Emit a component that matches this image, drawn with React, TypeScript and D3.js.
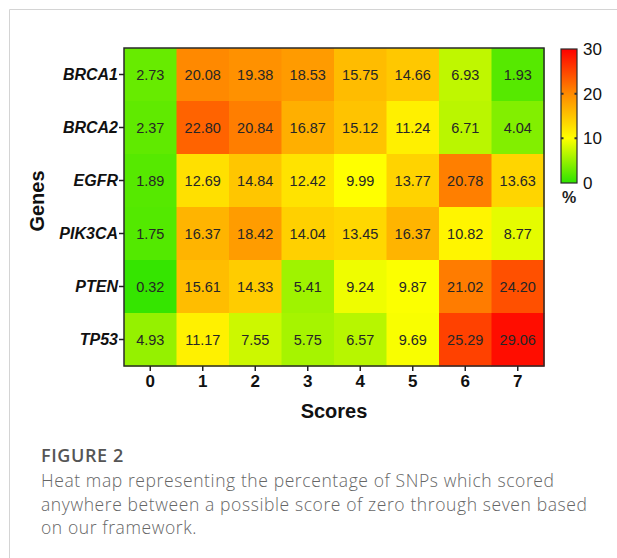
import { useEffect, useRef } from 'react';
import * as d3 from 'd3';

const genes = ['BRCA1', 'BRCA2', 'EGFR', 'PIK3CA', 'PTEN', 'TP53'];
const scores = ['0', '1', '2', '3', '4', '5', '6', '7'];
const brca1 = [2.73, 20.08, 19.38, 18.53, 15.75, 14.66, 6.93, 1.93];
const brca2 = [2.37, 22.8, 20.84, 16.87, 15.12, 11.24, 6.71, 4.04];
const egfr = [1.89, 12.69, 14.84, 12.42, 9.99, 13.77, 20.78, 13.63];
const pik3ca = [1.75, 16.37, 18.42, 14.04, 13.45, 16.37, 10.82, 8.77];
const pten = [0.32, 15.61, 14.33, 5.41, 9.24, 9.87, 21.02, 24.2];
const tp53 = [4.93, 11.17, 7.55, 5.75, 6.57, 9.69, 25.29, 29.06];
const legendTicks = [0, 10, 20, 30];

const rows = [brca1, brca2, egfr, pik3ca, pten, tp53];

function App() {
  const svgRef = useRef<SVGSVGElement | null>(null);
  const width = 617;
  const height = 558;
  const plot = { left: 124, right: 544, top: 48, bottom: 366 };

  useEffect(() => {
    const svg = d3.select(svgRef.current);
    svg.selectAll('*').remove();

    const cells = rows.flatMap((vals, i) =>
      vals.map((v, j) => ({ gene: genes[i], score: scores[j], value: v }))
    );

    const x = d3.scaleBand().domain(scores).range([plot.left, plot.right]);
    const y = d3.scaleBand().domain(genes).range([plot.top, plot.bottom]);
    const color = d3
      .scaleLinear<string>()
      .domain([0, 10, 20, 30])
      .range(['#2ee400', '#ffff00', '#ff8a00', '#ff0000'])
      .clamp(true);

    // card border
    svg.append('path')
      .attr('d', `M9.5,${height} V9.5 H${width}`)
      .attr('fill', 'none')
      .attr('stroke', '#d4d4d4');

    const g = svg.append('g');
    g.selectAll('rect.cell')
      .data(cells)
      .enter()
      .append('rect')
      .attr('class', 'cell')
      .attr('x', (d) => x(d.score) as number)
      .attr('y', (d) => y(d.gene) as number)
      .attr('width', x.bandwidth() + 0.5)
      .attr('height', y.bandwidth() + 0.5)
      .attr('fill', (d) => color(d.value));

    g.selectAll('text.val')
      .data(cells)
      .enter()
      .append('text')
      .attr('class', 'val')
      .attr('x', (d) => (x(d.score) as number) + x.bandwidth() / 2)
      .attr('y', (d) => (y(d.gene) as number) + y.bandwidth() / 2)
      .attr('dy', '0.36em')
      .attr('text-anchor', 'middle')
      .attr('font-family', 'Liberation Sans, Arial, sans-serif')
      .attr('font-size', 14.5)
      .attr('fill', '#262626')
      .text((d) => d.value.toFixed(2));

    svg.append('rect')
      .attr('x', plot.left)
      .attr('y', plot.top)
      .attr('width', plot.right - plot.left)
      .attr('height', plot.bottom - plot.top)
      .attr('fill', 'none')
      .attr('stroke', '#2a2a2a')
      .attr('stroke-width', 1.5);

    const yAxis = svg.append('g')
      .attr('transform', `translate(${plot.left},0)`)
      .call(d3.axisLeft(y).tickSize(5).tickPadding(1));
    yAxis.select('.domain').remove();
    yAxis.selectAll('line').attr('stroke', '#222').attr('stroke-width', 1.5);
    yAxis.selectAll('text')
      .attr('font-family', 'Liberation Sans, Arial, sans-serif')
      .attr('font-size', 16)
      .attr('font-weight', 'bold')
      .attr('font-style', 'italic')
      .attr('fill', '#111');

    const xAxis = svg.append('g')
      .attr('transform', `translate(0,${plot.bottom})`)
      .call(d3.axisBottom(x).tickSize(5).tickPadding(4));
    xAxis.select('.domain').remove();
    xAxis.selectAll('line').attr('stroke', '#222').attr('stroke-width', 1.5);
    xAxis.selectAll('text')
      .attr('font-family', 'Liberation Sans, Arial, sans-serif')
      .attr('font-size', 17)
      .attr('font-weight', 'bold')
      .attr('fill', '#111');

    svg.append('text')
      .attr('x', (plot.left + plot.right) / 2)
      .attr('y', 418)
      .attr('text-anchor', 'middle')
      .attr('font-family', 'Liberation Sans, Arial, sans-serif')
      .attr('font-size', 20)
      .attr('font-weight', 'bold')
      .attr('fill', '#111')
      .text('Scores');

    svg.append('text')
      .attr('transform', `translate(44,${(plot.top + plot.bottom) / 2 - 6}) rotate(-90)`)
      .attr('text-anchor', 'middle')
      .attr('font-family', 'Liberation Sans, Arial, sans-serif')
      .attr('font-size', 20)
      .attr('font-weight', 'bold')
      .attr('fill', '#111')
      .text('Genes');

    // legend
    const lg = { x: 561, w: 16, top: 49, bottom: 183 };
    const ly = d3.scaleLinear().domain([0, 30]).range([lg.bottom, lg.top]);
    const defs = svg.append('defs');
    const grad = defs.append('linearGradient')
      .attr('id', 'heat-grad')
      .attr('x1', 0).attr('y1', 1).attr('x2', 0).attr('y2', 0);
    color.domain().forEach((v) => {
      grad.append('stop')
        .attr('offset', v / 30)
        .attr('stop-color', color(v));
    });
    svg.append('rect')
      .attr('x', lg.x)
      .attr('y', lg.top)
      .attr('width', lg.w)
      .attr('height', lg.bottom - lg.top)
      .attr('fill', 'url(#heat-grad)')
      .attr('stroke', '#2a2a2a')
      .attr('stroke-width', 1.2);

    const la = svg.append('g')
      .attr('transform', `translate(${lg.x + lg.w},0)`)
      .call(d3.axisRight(ly).tickValues(legendTicks).tickSize(0).tickPadding(6));
    la.select('.domain').remove();
    la.selectAll('text')
      .attr('font-family', 'Liberation Sans, Arial, sans-serif')
      .attr('font-size', 17)
      .attr('fill', '#111');
    svg.append('g')
      .selectAll('path')
      .data(legendTicks.filter((t) => t > 0 && t < 30))
      .enter()
      .append('path')
      .attr('d', (t) => `M${lg.x},${ly(t)}h2.5M${lg.x + lg.w},${ly(t)}h-2.5`)
      .attr('stroke', '#333')
      .attr('stroke-width', 2);

    svg.append('text')
      .attr('x', lg.x + lg.w / 2)
      .attr('y', 203)
      .attr('text-anchor', 'middle')
      .attr('font-family', 'Liberation Sans, Arial, sans-serif')
      .attr('font-size', 16)
      .attr('font-weight', 'bold')
      .attr('fill', '#222')
      .text('%');

    // caption
    const cap = svg.append('g')
      .attr('font-family', 'Open Sans, sans-serif');
    cap.append('text')
      .attr('x', 41)
      .attr('y', 462)
      .attr('font-size', 18)
      .attr('font-weight', 600)
      .attr('letter-spacing', 0.6)
      .attr('fill', '#555')
      .text('FIGURE 2');
    const lines = [
      'Heat map representing the percentage of SNPs which scored',
      'anywhere between a possible score of zero through seven based',
      'on our framework.',
    ];
    cap.selectAll('text.line')
      .data(lines)
      .enter()
      .append('text')
      .attr('class', 'line')
      .attr('x', 41)
      .attr('y', (_, i) => 487 + i * 23.5)
      .attr('font-size', 17.5)
      .attr('font-weight', 300)
      .attr('letter-spacing', 0.6)
      .attr('fill', '#666')
      .text((d) => d);
  }, []);

  return (
    <svg
      ref={svgRef}
      width={width}
      height={height}
      style={{ position: 'absolute', left: 0, top: 0, background: '#fff' }}
    />
  );
}

export default App;
